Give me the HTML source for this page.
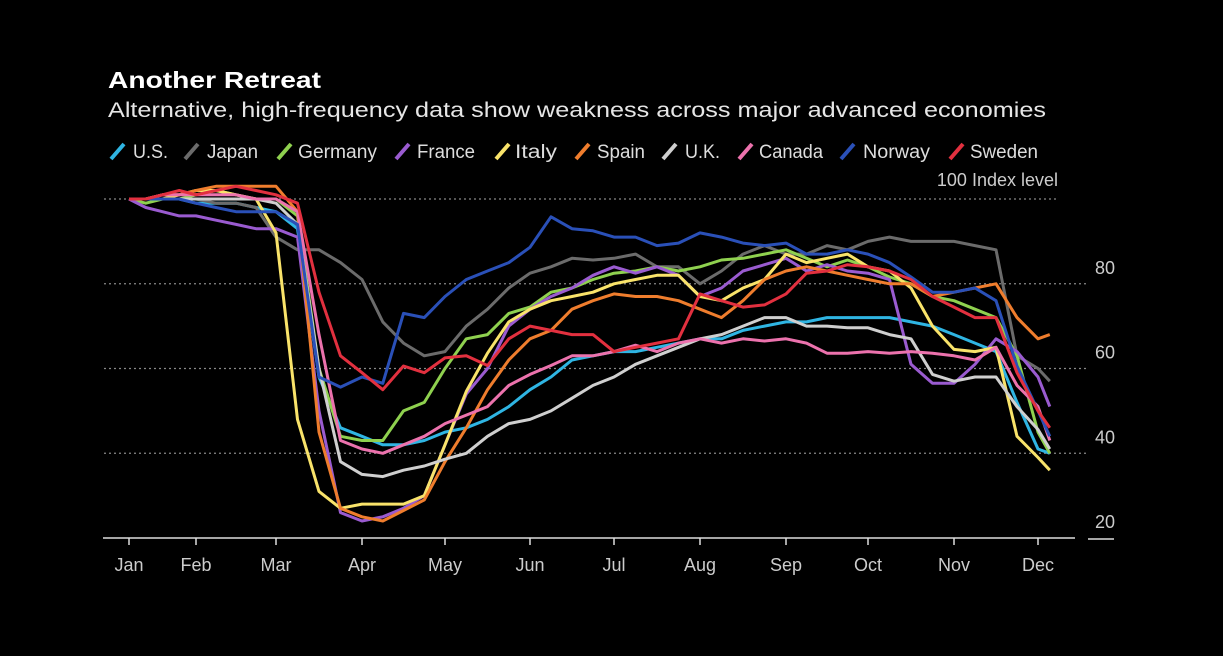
<!DOCTYPE html>
<html><head><meta charset="utf-8"><style>
body{margin:0;background:#000;width:1223px;height:656px;overflow:hidden;font-family:"Liberation Sans",sans-serif}
svg{display:block}
</style></head><body>
<svg id="chart" width="1223" height="656">
<text x="108" y="88" fill="#fff" font-size="23" font-weight="bold" textLength="213" lengthAdjust="spacingAndGlyphs">Another Retreat</text>
<text x="108" y="117" fill="#e6e6e6" font-size="21" textLength="938" lengthAdjust="spacingAndGlyphs">Alternative, high-frequency data show weakness across major advanced economies</text>
<g id="legend"></g>
<text x="1058" y="186" fill="#ccc" font-size="18" text-anchor="end">100  Index level</text>
<g id="grid"></g><g id="lines"></g><g id="axis"></g>
</svg>
<script>
const months=["Jan","Feb","Mar","Apr","May","Jun","Jul","Aug","Sep","Oct","Nov","Dec"];
const yTicks=[100,80,60,40,20];
const names=["U.S.","Japan","Germany","France","Italy","Spain","U.K.","Canada","Norway","Sweden"];
const colors=["#2fb5e3","#6b6b6b","#8fd14f","#9a5bd0","#f9e36a","#ef7d2d","#cfcfcf","#ec72ad","#2a50b8","#e2303f"];
const times=[];for(let i=0;i<45;i++)times.push(i*0.25);times.push(11.14);
const usVals=[100,100,100,100,99,99,99,98,97,93,58,46,44,42,42,43,45,46,48,51,55,58,62,63,64,64,65,66,67,67,69,70,71,71,72,72,72,72,71,70,68,66,64,52,41,40];
const japanVals=[100,100,100,100,100,99,99,98,91,88,88,85,81,71,66,63,64,70,74,79,82.5,84,86,85.6,86,87,84,84,80,83,87,89,87,87,89,88,90,91,90,90,90,89,88,63,60,57];
const germanyVals=[100,99,100,100,101,102,101,100,100,96,60,44,43,43,50,52,60,67,68,73,74.5,78,79,81,82.5,83,84,83,84,85.6,86,87,88,86,84,85.6,84,81.6,80,77,76,74,72,63,45,40];
const franceVals=[100,98,97,96,96,95,94,93,93,91,50,26,24,25,27,30,42,54,60,70,74,77,79,82,84,82.5,84,82,77,79,83,84.5,86,83,84.5,83,82.5,81,61,56.5,56.5,61,67,64,58,51];
const italyVals=[100,100,100,101,102,102,101,100,92,48,31,27,28,28,28,30,42,54.6,63.6,71,74,76,77,78,80,81,82,82,77,76,79,81,87,85,86,87,84,83,79,70,64.5,64,65,44,39,36];
const spainVals=[100,100,101,101,102,103,103,103,103,97,45,27,25,24,26.5,29,38,46,55,62,67,69,74,76,77.6,77,77,76,74,72,76,81,83,84,83,82,81,80,80,77,78,79,80,72,67,68];
const ukVals=[100,100,100,100,100,100,100,100,99,94,60,38,35,34.5,36,37,38.6,40,44,47,48,50,53,56,58,61,63,65,67,68,70,72,72,70,70,69.6,69.6,68,67,58.6,57,58,58,51,45.6,41];
const canadaVals=[100,100,101,101,101,101,101,100,100,97,68,43,41,40,42,44,47,49,51,56,58.6,60.7,63,63,64,65.5,64,66,67,66,67,66.5,67,66,63.6,63.6,64,63.6,64,63.6,63,62,65,56,51,43];
const norwayVals=[100,100,100,100,99,98,97,97,97,94,58,55.6,58,56.5,73,72,77,81,83,85,88.6,95.8,93,92.5,91,91,89,89.6,92,91,89.6,89,89.6,87,87,88,87,85,81.6,78,78,79,76,60.6,50,44];
const swedenVals=[100,100,101,102,101,102,103,102,101,99,78,63,59,55,60.6,59,62.5,63,60.7,67,70,69,68,68,64,65,66,67,77.6,76,74.5,75,77.6,82.5,83,84.5,84,83,81,77,74.5,72,72,59,50,46];
const series=[usVals,japanVals,germanyVals,franceVals,italyVals,spainVals,ukVals,canadaVals,norwayVals,swedenVals];
const tickX=[129,196,276,362,445,530,614,700,786,868,954,1038];
function xScale(t){const i=Math.min(Math.floor(t),10);const f=t-i;return tickX[i]+(tickX[i+1]-tickX[i])*f;}
function yScale(v){return 199+(100-v)*(538-199)/80;}
const NS="http://www.w3.org/2000/svg";
function mk(tag,attrs,parent){const e=document.createElementNS(NS,tag);for(const k in attrs)e.setAttribute(k,attrs[k]);parent.appendChild(e);return e;}
const grid=document.getElementById('grid'),lines=document.getElementById('lines'),axis=document.getElementById('axis'),legend=document.getElementById('legend');
yTicks.forEach(v=>{
  const y=yScale(v);
  if(v===20){return;}
  const l=mk('line',{x1:104,x2:v===100?1057:1086,y1:y,y2:y,stroke:'#888','stroke-width':1.2,'stroke-dasharray':'2,3'},grid);
  
  
  if(v!==100){const t=mk('text',{x:1105,y:y-10,fill:'#ccc','font-size':18,'text-anchor':'middle'},grid);t.textContent=v;
  
  }
});
const t20=mk('text',{x:1105,y:yScale(20)-10,fill:'#ccc','font-size':18,'text-anchor':'middle'},grid);t20.textContent=20;


mk('line',{x1:1088,x2:1114,y1:539,y2:539,stroke:'#ddd','stroke-width':1.5},grid);
series.forEach((vals,si)=>{
  const d=vals.map((v,i)=>(i?'L':'M')+xScale(times[i]).toFixed(1)+','+yScale(v).toFixed(1)).join('');
  const p=mk('path',{d:d,fill:'none',stroke:colors[si],'stroke-width':3,'stroke-linejoin':'round'},lines);
  
  
});
const ax=mk('line',{x1:103,x2:1075,y1:538,y2:538,stroke:'#ddd','stroke-width':1.5},axis);


months.forEach((m,i)=>{
  const x=tickX[i];
  mk('line',{x1:x,x2:x,y1:538,y2:545,stroke:'#ddd','stroke-width':1.5},axis);
  const t=mk('text',{x:x,y:571,fill:'#ccc','font-size':18,'text-anchor':'middle'},axis);t.textContent=m;
  
  
});
const legIcon=[110,184,277,395,495,575,662,738,840,949];
const legText=[133,207,298,417,515,597,685,759,863,970];
const legW=[35,51,79,58,42,48,35,64,67,68];
names.forEach((n,i)=>{
  const g=mk('g',{},legend);
  
  
  mk('line',{x1:legIcon[i]+1,x2:legIcon[i]+14,y1:159,y2:144,stroke:colors[i],'stroke-width':4},g);
  const t=mk('text',{x:legText[i],y:158,fill:'#ddd','font-size':19,textLength:legW[i],lengthAdjust:'spacingAndGlyphs'},g);t.textContent=n;
});
</script>
</body></html>
